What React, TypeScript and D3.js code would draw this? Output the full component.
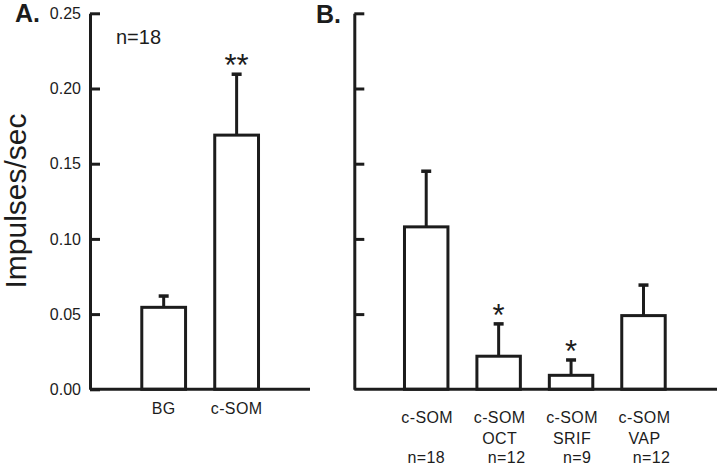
import React, { useEffect, useRef } from "react";
import * as d3 from "d3";

const yTickValues = [0, 0.05, 0.1, 0.15, 0.2, 0.25];

const panelACategories = ["BG", "c-SOM"];
const panelAMeans = [0.0545, 0.169];
const panelAErrors = [0.0075, 0.0405];
const panelASig = ["", "**"];

const panelBCategories = ["c-SOM", "c-SOM|OCT", "c-SOM|SRIF", "c-SOM|VAP"];
const panelBMeans = [0.108, 0.022, 0.0093, 0.049];
const panelBErrors = [0.037, 0.0215, 0.0102, 0.0203];
const panelBSig = ["", "*", "*", ""];
const panelBN = ["n=18", "n=12", "n=9", "n=12"];
const panelBNOffset = [0, 8, 6, 8];

const INK = "#1c1c1c";
const FONT = "'Liberation Sans', Arial, Helvetica, sans-serif";

const W = 720;
const H = 469;

const y = d3.scaleLinear().domain([0, 0.25]).range([389.3, 13.3]);

const xA = d3
  .scaleBand<string>()
  .domain(panelACategories)
  .range([127.2, 273.1])
  .paddingInner(0.4)
  .paddingOuter(0.2);

const xB = d3
  .scaleBand<string>()
  .domain(panelBCategories)
  .range([390, 679.7])
  .paddingInner(0.4)
  .paddingOuter(0.2);

type BarProps = {
  cats: string[];
  means: number[];
  errs: number[];
  sig: string[];
  x: d3.ScaleBand<string>;
};

function Bars({ cats, means, errs, sig, x }: BarProps) {
  return (
    <g>
      {cats.map((c, i) => {
        const x0 = x(c) as number;
        const bw = x.bandwidth();
        const cx = x0 + bw / 2;
        const top = y(means[i]);
        const cap = y(means[i] + errs[i]);
        return (
          <g key={c}>
            <line x1={cx} x2={cx} y1={top} y2={cap} stroke={INK} strokeWidth={3} />
            <line x1={cx - 5} x2={cx + 5} y1={cap} y2={cap} stroke={INK} strokeWidth={3.5} />
            <rect
              x={x0}
              y={top}
              width={bw}
              height={y(0) - top}
              fill="#ffffff"
              stroke={INK}
              strokeWidth={3}
            />
            {sig[i] ? (
              <text
                x={cx}
                y={cap + 2}
                textAnchor="middle"
                fontSize={31}
                fontFamily={FONT}
                fill={INK}
              >
                {sig[i]}
              </text>
            ) : null}
          </g>
        );
      })}
    </g>
  );
}

export default function App() {
  const axARef = useRef<SVGGElement>(null);
  const axBRef = useRef<SVGGElement>(null);

  useEffect(() => {
    const axA = d3
      .axisLeft(y)
      .tickValues(yTickValues)
      .tickSizeInner(-10)
      .tickSizeOuter(0)
      .tickPadding(9)
      .tickFormat(d3.format(".2f"));
    const gA = d3.select(axARef.current as SVGGElement);
    gA.call(axA as any);
    gA.selectAll("path").attr("stroke", INK).attr("stroke-width", 3);
    gA.selectAll("line").attr("stroke", INK).attr("stroke-width", 3);
    gA.selectAll("text")
      .attr("font-size", 16)
      .attr("font-family", FONT)
      .attr("fill", INK);
    gA.attr("font-size", null).attr("font-family", null);

    const axB = d3
      .axisLeft(y)
      .tickValues(yTickValues.filter((v) => v > 0))
      .tickSizeInner(-10)
      .tickSizeOuter(0)
      .tickFormat(() => "");
    const gB = d3.select(axBRef.current as SVGGElement);
    gB.call(axB as any);
    gB.selectAll("path").attr("stroke", INK).attr("stroke-width", 3);
    gB.selectAll("line").attr("stroke", INK).attr("stroke-width", 3);
  }, []);

  return (
    <svg
      width={W}
      height={H}
      viewBox={`0 0 ${W} ${H}`}
      style={{ position: "absolute", left: 0, top: 0, background: "#ffffff" }}
    >
      <rect x={0} y={0} width={W} height={H} fill="#ffffff" />

      {/* Panel labels */}
      <text x={15} y={22} fontSize={25} fontWeight="bold" fontFamily={FONT} fill={INK}>
        A.
      </text>
      <text x={316} y={23} fontSize={25} fontWeight="bold" fontFamily={FONT} fill={INK}>
        B.
      </text>

      {/* Y title */}
      <text
        transform={`translate(26,201) rotate(-90)`}
        textAnchor="middle"
        fontSize={30}
        fontFamily={FONT}
        fill={INK}
      >
        Impulses/sec
      </text>

      {/* Panel A */}
      <Bars cats={panelACategories} means={panelAMeans} errs={panelAErrors} sig={panelASig} x={xA} />
      <line x1={90} x2={310} y1={y(0)} y2={y(0)} stroke={INK} strokeWidth={3} />
      <g ref={axARef} transform="translate(90,0)" />
      <text x={116} y={44} fontSize={20} fontFamily={FONT} fill={INK}>
        n=18
      </text>
      {panelACategories.map((c) => (
        <text
          key={c}
          x={(xA(c) as number) + xA.bandwidth() / 2}
          y={414}
          textAnchor="middle"
          fontSize={16}
          letterSpacing={0.4}
          fontFamily={FONT}
          fill={INK}
        >
          {c}
        </text>
      ))}

      {/* Panel B */}
      <Bars cats={panelBCategories} means={panelBMeans} errs={panelBErrors} sig={panelBSig} x={xB} />
      <line x1={354.3} x2={717} y1={y(0)} y2={y(0)} stroke={INK} strokeWidth={3} />
      <g ref={axBRef} transform="translate(354.3,0)" />
      {panelBCategories.map((c, i) => {
        const cx = (xB(c) as number) + xB.bandwidth() / 2;
        const lines = c.split("|");
        return (
          <g key={c}>
            {lines.map((ln, j) => (
              <text
                key={j}
                x={cx + 1}
                y={423 + j * 20.5}
                textAnchor="middle"
                fontSize={16}
                letterSpacing={0.4}
                fontFamily={FONT}
                fill={INK}
              >
                {ln}
              </text>
            ))}
            <text
              x={cx + panelBNOffset[i]}
              y={463}
              textAnchor="middle"
              fontSize={16}
              letterSpacing={0.4}
              fontFamily={FONT}
              fill={INK}
            >
              {panelBN[i]}
            </text>
          </g>
        );
      })}
    </svg>
  );
}
